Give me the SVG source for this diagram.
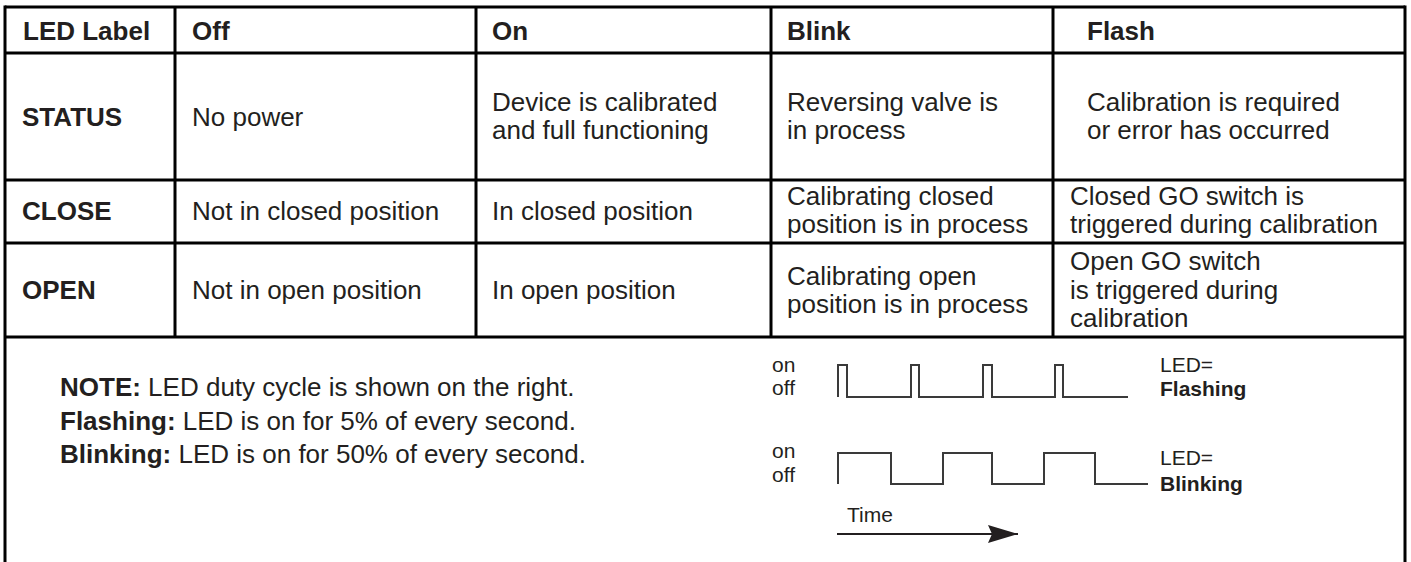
<svg xmlns="http://www.w3.org/2000/svg" width="1411" height="562" viewBox="0 0 1411 562">
<defs>
<style>
.t{font-family:"Liberation Sans",Arial,sans-serif;font-size:26px;fill:#231f20}
.b{font-weight:bold}
.s{font-family:"Liberation Sans",Arial,sans-serif;font-size:21px;fill:#231f20}
.grid{stroke:#000;stroke-width:3;fill:none}
.wave{stroke:#3a3a3a;stroke-width:2;fill:none}
</style>
<marker id="ah" viewBox="0 0 30 18" refX="30" refY="9" markerWidth="30" markerHeight="18" markerUnits="userSpaceOnUse" orient="auto">
<path d="M0,0 L30,9 L0,18 L4,9 Z" fill="#231f20"/>
</marker>
</defs>
<rect width="1411" height="562" fill="#fff"/>
<g id="grid" class="grid">
<path d="M5,7 H1405 M5,53 H1405 M5,180 H1405 M5,243 H1405 M5,337 H1405"/>
<path d="M5,5.5 V562 M1405,5.5 V562 M175,7 V337 M476,7 V337 M771,7 V337 M1053,7 V337"/>
</g>
<g id="header">
<text class="t b" x="23" y="40">LED Label</text>
<text class="t b" x="192" y="40">Off</text>
<text class="t b" x="492" y="40">On</text>
<text class="t b" x="787" y="40">Blink</text>
<text class="t b" x="1087" y="40">Flash</text>
</g>
<g id="row-status">
<text class="t b" x="22" y="126">STATUS</text>
<text class="t" x="192" y="126">No power</text>
<text class="t" x="492" y="111">Device is calibrated</text>
<text class="t" x="492" y="139">and full functioning</text>
<text class="t" x="787" y="111">Reversing valve is</text>
<text class="t" x="787" y="139">in process</text>
<text class="t" x="1087" y="111">Calibration is required</text>
<text class="t" x="1087" y="139">or error has occurred</text>
</g>
<g id="row-close">
<text class="t b" x="22" y="220">CLOSE</text>
<text class="t" x="192" y="220">Not in closed position</text>
<text class="t" x="492" y="220">In closed position</text>
<text class="t" x="787" y="205">Calibrating closed</text>
<text class="t" x="787" y="233">position is in process</text>
<text class="t" x="1070" y="205">Closed GO switch is</text>
<text class="t" x="1070" y="233">triggered during calibration</text>
</g>
<g id="row-open">
<text class="t b" x="22" y="299">OPEN</text>
<text class="t" x="192" y="299">Not in open position</text>
<text class="t" x="492" y="299">In open position</text>
<text class="t" x="787" y="285">Calibrating open</text>
<text class="t" x="787" y="313">position is in process</text>
<text class="t" x="1070" y="270">Open GO switch</text>
<text class="t" x="1070" y="299">is triggered during</text>
<text class="t" x="1070" y="327">calibration</text>
</g>
<g id="note">
<text class="t" x="60" y="396"><tspan class="b">NOTE:</tspan> LED duty cycle is shown on the right.</text>
<text class="t" x="60" y="430"><tspan class="b">Flashing:</tspan> LED is on for 5% of every second.</text>
<text class="t" x="60" y="463"><tspan class="b">Blinking:</tspan> LED is on for 50% of every second.</text>
</g>
<g id="flashing">
<text class="s" x="772" y="372">on</text>
<text class="s" x="772" y="395">off</text>
<path class="wave" d="M838,397 V365 H847 V397 H911 V365 H919 V397 H983 V365 H992 V397 H1055 V365 H1063 V397 H1128"/>
<text class="s" x="1160" y="372">LED=</text>
<text class="s b" x="1160" y="396">Flashing</text>
</g>
<g id="blinking">
<text class="s" x="772" y="458">on</text>
<text class="s" x="772" y="482">off</text>
<path class="wave" d="M838,484 V453 H891 V484 H943 V453 H992 V484 H1044 V453 H1095 V484 H1148"/>
<text class="s" x="1160" y="465">LED=</text>
<text class="s b" x="1160" y="491">Blinking</text>
</g>
<g id="connectors">
<path d="M837,534 H1018" stroke="#231f20" stroke-width="2" fill="none" marker-end="url(#ah)"/>
</g>
<g id="time-label">
<text class="s" x="847" y="522">Time</text>
</g>
</svg>
